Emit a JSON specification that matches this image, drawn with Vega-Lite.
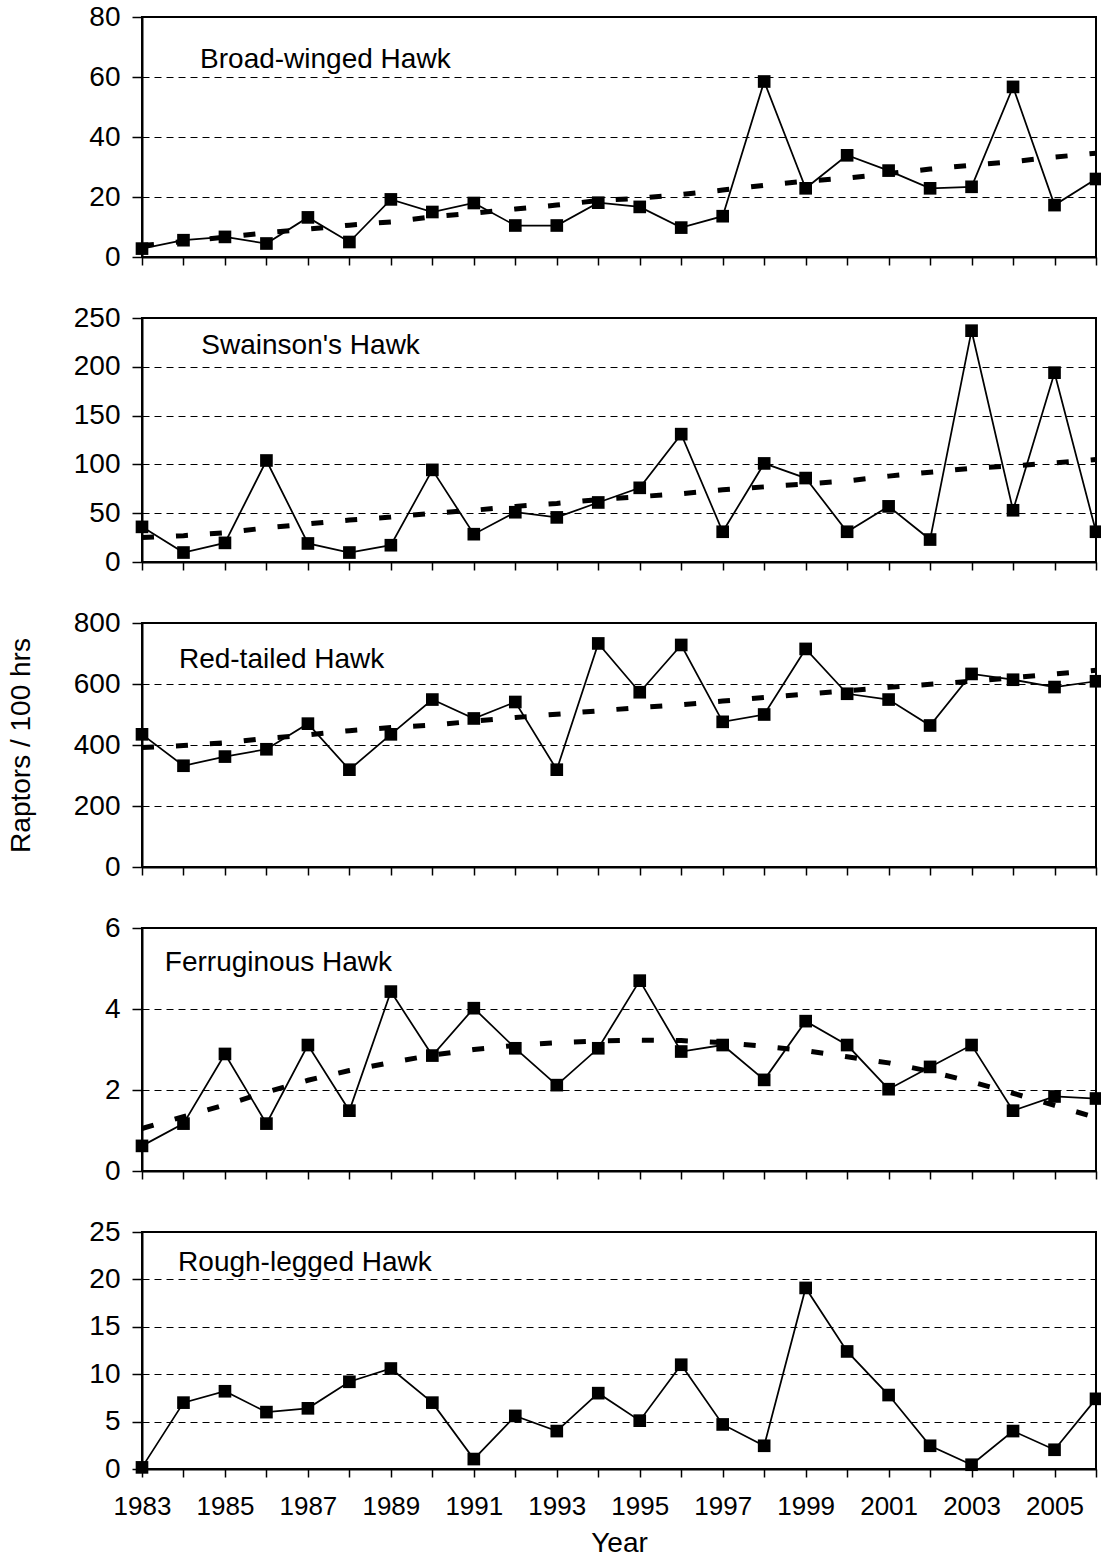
{
  "$schema": "https://vega.github.io/schema/vega-lite/v6.json",
  "background": "white",
  "padding": {"left": 6, "top": 2, "right": 2, "bottom": 2},
  "spacing": 61,
  "bounds": "flush",
  "config": {
    "font": "Liberation Sans",
    "view": {"stroke": "black", "strokeWidth": 2},
    "axis": {
      "domainColor": "black", "domainWidth": 2, "tickColor": "black", "tickWidth": 1.5,
      "labelColor": "black", "titleColor": "black", "labelFont": "Liberation Sans", "titleFont": "Liberation Sans",
      "labelFontSize": 28, "titleFontSize": 28, "titleFontWeight": "normal", "labelFlush": false, "labelOverlap": false
    },
    "axisY": {"tickSize": 10, "labelPadding": 12, "grid": true, "gridColor": "black", "gridDash": [7, 5], "gridWidth": 1, "titlePadding": 38},
    "axisX": {"tickSize": 8, "grid": false, "labelFontSize": 26, "labelPadding": 16, "titlePadding": 10}
  },
  "datasets": {
    "obs": [
      {"species": "Broad-winged Hawk", "year": 1983, "value": 2.8}, {"species": "Broad-winged Hawk", "year": 1984, "value": 5.6},
      {"species": "Broad-winged Hawk", "year": 1985, "value": 6.7}, {"species": "Broad-winged Hawk", "year": 1986, "value": 4.5},
      {"species": "Broad-winged Hawk", "year": 1987, "value": 13.2}, {"species": "Broad-winged Hawk", "year": 1988, "value": 5.0},
      {"species": "Broad-winged Hawk", "year": 1989, "value": 19.2}, {"species": "Broad-winged Hawk", "year": 1990, "value": 15.0},
      {"species": "Broad-winged Hawk", "year": 1991, "value": 18.0}, {"species": "Broad-winged Hawk", "year": 1992, "value": 10.5},
      {"species": "Broad-winged Hawk", "year": 1993, "value": 10.5}, {"species": "Broad-winged Hawk", "year": 1994, "value": 18.1},
      {"species": "Broad-winged Hawk", "year": 1995, "value": 16.7}, {"species": "Broad-winged Hawk", "year": 1996, "value": 9.8},
      {"species": "Broad-winged Hawk", "year": 1997, "value": 13.6}, {"species": "Broad-winged Hawk", "year": 1998, "value": 58.5},
      {"species": "Broad-winged Hawk", "year": 1999, "value": 22.9}, {"species": "Broad-winged Hawk", "year": 2000, "value": 33.9},
      {"species": "Broad-winged Hawk", "year": 2001, "value": 28.8}, {"species": "Broad-winged Hawk", "year": 2002, "value": 22.9},
      {"species": "Broad-winged Hawk", "year": 2003, "value": 23.4}, {"species": "Broad-winged Hawk", "year": 2004, "value": 56.7},
      {"species": "Broad-winged Hawk", "year": 2005, "value": 17.3}, {"species": "Broad-winged Hawk", "year": 2006, "value": 26.0},

      {"species": "Swainson's Hawk", "year": 1983, "value": 36}, {"species": "Swainson's Hawk", "year": 1984, "value": 9.7},
      {"species": "Swainson's Hawk", "year": 1985, "value": 19.6}, {"species": "Swainson's Hawk", "year": 1986, "value": 104},
      {"species": "Swainson's Hawk", "year": 1987, "value": 19}, {"species": "Swainson's Hawk", "year": 1988, "value": 9.7},
      {"species": "Swainson's Hawk", "year": 1989, "value": 17.2}, {"species": "Swainson's Hawk", "year": 1990, "value": 94.4},
      {"species": "Swainson's Hawk", "year": 1991, "value": 28.5}, {"species": "Swainson's Hawk", "year": 1992, "value": 51},
      {"species": "Swainson's Hawk", "year": 1993, "value": 45.7}, {"species": "Swainson's Hawk", "year": 1994, "value": 61},
      {"species": "Swainson's Hawk", "year": 1995, "value": 76}, {"species": "Swainson's Hawk", "year": 1996, "value": 131},
      {"species": "Swainson's Hawk", "year": 1997, "value": 31}, {"species": "Swainson's Hawk", "year": 1998, "value": 101},
      {"species": "Swainson's Hawk", "year": 1999, "value": 86}, {"species": "Swainson's Hawk", "year": 2000, "value": 31},
      {"species": "Swainson's Hawk", "year": 2001, "value": 57}, {"species": "Swainson's Hawk", "year": 2002, "value": 23},
      {"species": "Swainson's Hawk", "year": 2003, "value": 237}, {"species": "Swainson's Hawk", "year": 2004, "value": 53},
      {"species": "Swainson's Hawk", "year": 2005, "value": 194}, {"species": "Swainson's Hawk", "year": 2006, "value": 31},

      {"species": "Red-tailed Hawk", "year": 1983, "value": 435}, {"species": "Red-tailed Hawk", "year": 1984, "value": 332},
      {"species": "Red-tailed Hawk", "year": 1985, "value": 362}, {"species": "Red-tailed Hawk", "year": 1986, "value": 386},
      {"species": "Red-tailed Hawk", "year": 1987, "value": 470}, {"species": "Red-tailed Hawk", "year": 1988, "value": 319},
      {"species": "Red-tailed Hawk", "year": 1989, "value": 435}, {"species": "Red-tailed Hawk", "year": 1990, "value": 549},
      {"species": "Red-tailed Hawk", "year": 1991, "value": 487}, {"species": "Red-tailed Hawk", "year": 1992, "value": 541},
      {"species": "Red-tailed Hawk", "year": 1993, "value": 319}, {"species": "Red-tailed Hawk", "year": 1994, "value": 733},
      {"species": "Red-tailed Hawk", "year": 1995, "value": 573}, {"species": "Red-tailed Hawk", "year": 1996, "value": 728},
      {"species": "Red-tailed Hawk", "year": 1997, "value": 476}, {"species": "Red-tailed Hawk", "year": 1998, "value": 500},
      {"species": "Red-tailed Hawk", "year": 1999, "value": 715}, {"species": "Red-tailed Hawk", "year": 2000, "value": 568},
      {"species": "Red-tailed Hawk", "year": 2001, "value": 549}, {"species": "Red-tailed Hawk", "year": 2002, "value": 464},
      {"species": "Red-tailed Hawk", "year": 2003, "value": 633}, {"species": "Red-tailed Hawk", "year": 2004, "value": 614},
      {"species": "Red-tailed Hawk", "year": 2005, "value": 590}, {"species": "Red-tailed Hawk", "year": 2006, "value": 609},

      {"species": "Ferruginous Hawk", "year": 1983, "value": 0.62}, {"species": "Ferruginous Hawk", "year": 1984, "value": 1.17},
      {"species": "Ferruginous Hawk", "year": 1985, "value": 2.89}, {"species": "Ferruginous Hawk", "year": 1986, "value": 1.17},
      {"species": "Ferruginous Hawk", "year": 1987, "value": 3.11}, {"species": "Ferruginous Hawk", "year": 1988, "value": 1.49},
      {"species": "Ferruginous Hawk", "year": 1989, "value": 4.43}, {"species": "Ferruginous Hawk", "year": 1990, "value": 2.85},
      {"species": "Ferruginous Hawk", "year": 1991, "value": 4.02}, {"species": "Ferruginous Hawk", "year": 1992, "value": 3.03},
      {"species": "Ferruginous Hawk", "year": 1993, "value": 2.12}, {"species": "Ferruginous Hawk", "year": 1994, "value": 3.03},
      {"species": "Ferruginous Hawk", "year": 1995, "value": 4.70}, {"species": "Ferruginous Hawk", "year": 1996, "value": 2.95},
      {"species": "Ferruginous Hawk", "year": 1997, "value": 3.11}, {"species": "Ferruginous Hawk", "year": 1998, "value": 2.25},
      {"species": "Ferruginous Hawk", "year": 1999, "value": 3.70}, {"species": "Ferruginous Hawk", "year": 2000, "value": 3.11},
      {"species": "Ferruginous Hawk", "year": 2001, "value": 2.02}, {"species": "Ferruginous Hawk", "year": 2002, "value": 2.57},
      {"species": "Ferruginous Hawk", "year": 2003, "value": 3.11}, {"species": "Ferruginous Hawk", "year": 2004, "value": 1.49},
      {"species": "Ferruginous Hawk", "year": 2005, "value": 1.84}, {"species": "Ferruginous Hawk", "year": 2006, "value": 1.79},

      {"species": "Rough-legged Hawk", "year": 1983, "value": 0.17}, {"species": "Rough-legged Hawk", "year": 1984, "value": 7.0},
      {"species": "Rough-legged Hawk", "year": 1985, "value": 8.2}, {"species": "Rough-legged Hawk", "year": 1986, "value": 6.0},
      {"species": "Rough-legged Hawk", "year": 1987, "value": 6.4}, {"species": "Rough-legged Hawk", "year": 1988, "value": 9.2},
      {"species": "Rough-legged Hawk", "year": 1989, "value": 10.6}, {"species": "Rough-legged Hawk", "year": 1990, "value": 7.0},
      {"species": "Rough-legged Hawk", "year": 1991, "value": 1.05}, {"species": "Rough-legged Hawk", "year": 1992, "value": 5.6},
      {"species": "Rough-legged Hawk", "year": 1993, "value": 4.0}, {"species": "Rough-legged Hawk", "year": 1994, "value": 8.0},
      {"species": "Rough-legged Hawk", "year": 1995, "value": 5.1}, {"species": "Rough-legged Hawk", "year": 1996, "value": 11.0},
      {"species": "Rough-legged Hawk", "year": 1997, "value": 4.7}, {"species": "Rough-legged Hawk", "year": 1998, "value": 2.45},
      {"species": "Rough-legged Hawk", "year": 1999, "value": 19.1}, {"species": "Rough-legged Hawk", "year": 2000, "value": 12.4},
      {"species": "Rough-legged Hawk", "year": 2001, "value": 7.8}, {"species": "Rough-legged Hawk", "year": 2002, "value": 2.45},
      {"species": "Rough-legged Hawk", "year": 2003, "value": 0.45}, {"species": "Rough-legged Hawk", "year": 2004, "value": 4.0},
      {"species": "Rough-legged Hawk", "year": 2005, "value": 2.03}, {"species": "Rough-legged Hawk", "year": 2006, "value": 7.4}
    ],
    "trend": [
      {"species": "Broad-winged Hawk", "year": 1983, "value": 3.8}, {"species": "Broad-winged Hawk", "year": 1984, "value": 5.2},
      {"species": "Broad-winged Hawk", "year": 1985, "value": 6.6}, {"species": "Broad-winged Hawk", "year": 1986, "value": 8.1},
      {"species": "Broad-winged Hawk", "year": 1987, "value": 9.3}, {"species": "Broad-winged Hawk", "year": 1988, "value": 10.6},
      {"species": "Broad-winged Hawk", "year": 1989, "value": 11.7}, {"species": "Broad-winged Hawk", "year": 1990, "value": 13.4},
      {"species": "Broad-winged Hawk", "year": 1991, "value": 14.6}, {"species": "Broad-winged Hawk", "year": 1992, "value": 16.0},
      {"species": "Broad-winged Hawk", "year": 1993, "value": 17.3}, {"species": "Broad-winged Hawk", "year": 1994, "value": 18.8},
      {"species": "Broad-winged Hawk", "year": 1995, "value": 19.6}, {"species": "Broad-winged Hawk", "year": 1996, "value": 20.8},
      {"species": "Broad-winged Hawk", "year": 1997, "value": 22.3}, {"species": "Broad-winged Hawk", "year": 1998, "value": 23.9},
      {"species": "Broad-winged Hawk", "year": 1999, "value": 25.3}, {"species": "Broad-winged Hawk", "year": 2000, "value": 26.3},
      {"species": "Broad-winged Hawk", "year": 2001, "value": 27.8}, {"species": "Broad-winged Hawk", "year": 2002, "value": 29.3},
      {"species": "Broad-winged Hawk", "year": 2003, "value": 30.6}, {"species": "Broad-winged Hawk", "year": 2004, "value": 31.8},
      {"species": "Broad-winged Hawk", "year": 2005, "value": 33.3}, {"species": "Broad-winged Hawk", "year": 2006, "value": 34.6},

      {"species": "Swainson's Hawk", "year": 1983, "value": 25}, {"species": "Swainson's Hawk", "year": 1984, "value": 27},
      {"species": "Swainson's Hawk", "year": 1985, "value": 30}, {"species": "Swainson's Hawk", "year": 1986, "value": 35},
      {"species": "Swainson's Hawk", "year": 1987, "value": 39}, {"species": "Swainson's Hawk", "year": 1988, "value": 43},
      {"species": "Swainson's Hawk", "year": 1989, "value": 46}, {"species": "Swainson's Hawk", "year": 1990, "value": 50},
      {"species": "Swainson's Hawk", "year": 1991, "value": 53}, {"species": "Swainson's Hawk", "year": 1992, "value": 57},
      {"species": "Swainson's Hawk", "year": 1993, "value": 60}, {"species": "Swainson's Hawk", "year": 1994, "value": 64},
      {"species": "Swainson's Hawk", "year": 1995, "value": 67}, {"species": "Swainson's Hawk", "year": 1996, "value": 70},
      {"species": "Swainson's Hawk", "year": 1997, "value": 74}, {"species": "Swainson's Hawk", "year": 1998, "value": 77},
      {"species": "Swainson's Hawk", "year": 1999, "value": 80}, {"species": "Swainson's Hawk", "year": 2000, "value": 83},
      {"species": "Swainson's Hawk", "year": 2001, "value": 88}, {"species": "Swainson's Hawk", "year": 2002, "value": 92},
      {"species": "Swainson's Hawk", "year": 2003, "value": 96}, {"species": "Swainson's Hawk", "year": 2004, "value": 98.5},
      {"species": "Swainson's Hawk", "year": 2005, "value": 101.5}, {"species": "Swainson's Hawk", "year": 2006, "value": 105},

      {"species": "Red-tailed Hawk", "year": 1983, "value": 392}, {"species": "Red-tailed Hawk", "year": 1984, "value": 398},
      {"species": "Red-tailed Hawk", "year": 1985, "value": 407}, {"species": "Red-tailed Hawk", "year": 1986, "value": 422},
      {"species": "Red-tailed Hawk", "year": 1987, "value": 433}, {"species": "Red-tailed Hawk", "year": 1988, "value": 447},
      {"species": "Red-tailed Hawk", "year": 1989, "value": 457}, {"species": "Red-tailed Hawk", "year": 1990, "value": 465},
      {"species": "Red-tailed Hawk", "year": 1991, "value": 478}, {"species": "Red-tailed Hawk", "year": 1992, "value": 490},
      {"species": "Red-tailed Hawk", "year": 1993, "value": 501}, {"species": "Red-tailed Hawk", "year": 1994, "value": 512},
      {"species": "Red-tailed Hawk", "year": 1995, "value": 523}, {"species": "Red-tailed Hawk", "year": 1996, "value": 532},
      {"species": "Red-tailed Hawk", "year": 1997, "value": 544}, {"species": "Red-tailed Hawk", "year": 1998, "value": 556},
      {"species": "Red-tailed Hawk", "year": 1999, "value": 567}, {"species": "Red-tailed Hawk", "year": 2000, "value": 578},
      {"species": "Red-tailed Hawk", "year": 2001, "value": 589}, {"species": "Red-tailed Hawk", "year": 2002, "value": 599},
      {"species": "Red-tailed Hawk", "year": 2003, "value": 609}, {"species": "Red-tailed Hawk", "year": 2004, "value": 621},
      {"species": "Red-tailed Hawk", "year": 2005, "value": 633}, {"species": "Red-tailed Hawk", "year": 2006, "value": 645},

      {"species": "Ferruginous Hawk", "year": 1983, "value": 1.05}, {"species": "Ferruginous Hawk", "year": 1984, "value": 1.34},
      {"species": "Ferruginous Hawk", "year": 1985, "value": 1.63}, {"species": "Ferruginous Hawk", "year": 1986, "value": 1.95},
      {"species": "Ferruginous Hawk", "year": 1987, "value": 2.24}, {"species": "Ferruginous Hawk", "year": 1988, "value": 2.48},
      {"species": "Ferruginous Hawk", "year": 1989, "value": 2.68}, {"species": "Ferruginous Hawk", "year": 1990, "value": 2.86},
      {"species": "Ferruginous Hawk", "year": 1991, "value": 3.0}, {"species": "Ferruginous Hawk", "year": 1992, "value": 3.1},
      {"species": "Ferruginous Hawk", "year": 1993, "value": 3.17}, {"species": "Ferruginous Hawk", "year": 1994, "value": 3.21},
      {"species": "Ferruginous Hawk", "year": 1995, "value": 3.23}, {"species": "Ferruginous Hawk", "year": 1996, "value": 3.22},
      {"species": "Ferruginous Hawk", "year": 1997, "value": 3.17}, {"species": "Ferruginous Hawk", "year": 1998, "value": 3.08},
      {"species": "Ferruginous Hawk", "year": 1999, "value": 2.97}, {"species": "Ferruginous Hawk", "year": 2000, "value": 2.82},
      {"species": "Ferruginous Hawk", "year": 2001, "value": 2.67}, {"species": "Ferruginous Hawk", "year": 2002, "value": 2.46},
      {"species": "Ferruginous Hawk", "year": 2003, "value": 2.2}, {"species": "Ferruginous Hawk", "year": 2004, "value": 1.92},
      {"species": "Ferruginous Hawk", "year": 2005, "value": 1.62}, {"species": "Ferruginous Hawk", "year": 2006, "value": 1.32}
    ]
  },
  "vconcat": [
    {
      "width": 954, "height": 240,
      "layer": [
        {"data": {"name": "trend"}, "transform": [{"filter": "datum.species === 'Broad-winged Hawk'"}], "mark": {"type": "line", "color": "black", "strokeWidth": 5, "strokeDash": [12, 22], "strokeCap": "butt"},
         "encoding": {
           "x": {"field": "year", "type": "quantitative", "scale": {"domain": [1983, 2006], "nice": false, "zero": false},
                 "axis": {"values": [1983,1984,1985,1986,1987,1988,1989,1990,1991,1992,1993,1994,1995,1996,1997,1998,1999,2000,2001,2002,2003,2004,2005,2006], "labels": false, "title": null}},
           "y": {"field": "value", "type": "quantitative", "scale": {"domain": [0, 80], "nice": false, "zero": true}, "axis": {"values": [0, 20, 40, 60, 80], "title": null}}}},
        {"data": {"name": "obs"}, "transform": [{"filter": "datum.species === 'Broad-winged Hawk'"}], "mark": {"type": "line", "color": "black", "strokeWidth": 1.75},
         "encoding": {"x": {"field": "year", "type": "quantitative"}, "y": {"field": "value", "type": "quantitative"}}},
        {"data": {"name": "obs"}, "transform": [{"filter": "datum.species === 'Broad-winged Hawk'"}], "mark": {"type": "point", "shape": "square", "filled": true, "size": 160, "color": "black", "opacity": 1},
         "encoding": {"x": {"field": "year", "type": "quantitative"}, "y": {"field": "value", "type": "quantitative"}}},
        {"data": {"name": "obs"}, "transform": [{"filter": "datum.species === 'Broad-winged Hawk' && datum.year === 1983"}],
         "mark": {"type": "text", "align": "left", "baseline": "alphabetic", "fontSize": 28, "color": "black", "text": "Broad-winged Hawk"},
         "encoding": {"x": {"datum": 1984.4, "type": "quantitative"}, "y": {"datum": 63, "type": "quantitative"}}}
      ]
    },
    {
      "width": 954, "height": 244,
      "layer": [
        {"data": {"name": "trend"}, "transform": [{"filter": "datum.species === \"Swainson's Hawk\""}], "mark": {"type": "line", "color": "black", "strokeWidth": 5, "strokeDash": [12, 22], "strokeCap": "butt"},
         "encoding": {
           "x": {"field": "year", "type": "quantitative", "scale": {"domain": [1983, 2006], "nice": false, "zero": false},
                 "axis": {"values": [1983,1984,1985,1986,1987,1988,1989,1990,1991,1992,1993,1994,1995,1996,1997,1998,1999,2000,2001,2002,2003,2004,2005,2006], "labels": false, "title": null}},
           "y": {"field": "value", "type": "quantitative", "scale": {"domain": [0, 250], "nice": false, "zero": true}, "axis": {"values": [0, 50, 100, 150, 200, 250], "title": null}}}},
        {"data": {"name": "obs"}, "transform": [{"filter": "datum.species === \"Swainson's Hawk\""}], "mark": {"type": "line", "color": "black", "strokeWidth": 1.75},
         "encoding": {"x": {"field": "year", "type": "quantitative"}, "y": {"field": "value", "type": "quantitative"}}},
        {"data": {"name": "obs"}, "transform": [{"filter": "datum.species === \"Swainson's Hawk\""}], "mark": {"type": "point", "shape": "square", "filled": true, "size": 160, "color": "black", "opacity": 1},
         "encoding": {"x": {"field": "year", "type": "quantitative"}, "y": {"field": "value", "type": "quantitative"}}},
        {"data": {"name": "obs"}, "transform": [{"filter": "datum.species === \"Swainson's Hawk\" && datum.year === 1983"}],
         "mark": {"type": "text", "align": "left", "baseline": "alphabetic", "fontSize": 28, "color": "black", "text": "Swainson's Hawk"},
         "encoding": {"x": {"datum": 1984.43, "type": "quantitative"}, "y": {"datum": 212.7, "type": "quantitative"}}}
      ]
    },
    {
      "width": 954, "height": 244,
      "layer": [
        {"data": {"name": "trend"}, "transform": [{"filter": "datum.species === 'Red-tailed Hawk'"}], "mark": {"type": "line", "color": "black", "strokeWidth": 5, "strokeDash": [12, 22], "strokeCap": "butt"},
         "encoding": {
           "x": {"field": "year", "type": "quantitative", "scale": {"domain": [1983, 2006], "nice": false, "zero": false},
                 "axis": {"values": [1983,1984,1985,1986,1987,1988,1989,1990,1991,1992,1993,1994,1995,1996,1997,1998,1999,2000,2001,2002,2003,2004,2005,2006], "labels": false, "title": null}},
           "y": {"field": "value", "type": "quantitative", "scale": {"domain": [0, 800], "nice": false, "zero": true}, "axis": {"values": [0, 200, 400, 600, 800], "title": "Raptors / 100 hrs"}}}},
        {"data": {"name": "obs"}, "transform": [{"filter": "datum.species === 'Red-tailed Hawk'"}], "mark": {"type": "line", "color": "black", "strokeWidth": 1.75},
         "encoding": {"x": {"field": "year", "type": "quantitative"}, "y": {"field": "value", "type": "quantitative"}}},
        {"data": {"name": "obs"}, "transform": [{"filter": "datum.species === 'Red-tailed Hawk'"}], "mark": {"type": "point", "shape": "square", "filled": true, "size": 160, "color": "black", "opacity": 1},
         "encoding": {"x": {"field": "year", "type": "quantitative"}, "y": {"field": "value", "type": "quantitative"}}},
        {"data": {"name": "obs"}, "transform": [{"filter": "datum.species === 'Red-tailed Hawk' && datum.year === 1983"}],
         "mark": {"type": "text", "align": "left", "baseline": "alphabetic", "fontSize": 28, "color": "black", "text": "Red-tailed Hawk"},
         "encoding": {"x": {"datum": 1983.89, "type": "quantitative"}, "y": {"datum": 654, "type": "quantitative"}}}
      ]
    },
    {
      "width": 954, "height": 243,
      "layer": [
        {"data": {"name": "trend"}, "transform": [{"filter": "datum.species === 'Ferruginous Hawk'"}], "mark": {"type": "line", "color": "black", "strokeWidth": 5, "strokeDash": [12, 22], "strokeCap": "butt"},
         "encoding": {
           "x": {"field": "year", "type": "quantitative", "scale": {"domain": [1983, 2006], "nice": false, "zero": false},
                 "axis": {"values": [1983,1984,1985,1986,1987,1988,1989,1990,1991,1992,1993,1994,1995,1996,1997,1998,1999,2000,2001,2002,2003,2004,2005,2006], "labels": false, "title": null}},
           "y": {"field": "value", "type": "quantitative", "scale": {"domain": [0, 6], "nice": false, "zero": true}, "axis": {"values": [0, 2, 4, 6], "title": null}}}},
        {"data": {"name": "obs"}, "transform": [{"filter": "datum.species === 'Ferruginous Hawk'"}], "mark": {"type": "line", "color": "black", "strokeWidth": 1.75},
         "encoding": {"x": {"field": "year", "type": "quantitative"}, "y": {"field": "value", "type": "quantitative"}}},
        {"data": {"name": "obs"}, "transform": [{"filter": "datum.species === 'Ferruginous Hawk'"}], "mark": {"type": "point", "shape": "square", "filled": true, "size": 160, "color": "black", "opacity": 1},
         "encoding": {"x": {"field": "year", "type": "quantitative"}, "y": {"field": "value", "type": "quantitative"}}},
        {"data": {"name": "obs"}, "transform": [{"filter": "datum.species === 'Ferruginous Hawk' && datum.year === 1983"}],
         "mark": {"type": "text", "align": "left", "baseline": "alphabetic", "fontSize": 28, "color": "black", "text": "Ferruginous Hawk"},
         "encoding": {"x": {"datum": 1983.55, "type": "quantitative"}, "y": {"datum": 4.95, "type": "quantitative"}}}
      ]
    },
    {
      "width": 954, "height": 237,
      "layer": [
        {"data": {"name": "obs"}, "transform": [{"filter": "datum.species === 'Rough-legged Hawk'"}], "mark": {"type": "line", "color": "black", "strokeWidth": 1.75},
         "encoding": {
           "x": {"field": "year", "type": "quantitative", "scale": {"domain": [1983, 2006], "nice": false, "zero": false},
                 "axis": {"values": [1983,1984,1985,1986,1987,1988,1989,1990,1991,1992,1993,1994,1995,1996,1997,1998,1999,2000,2001,2002,2003,2004,2005,2006], "format": "d", "labelExpr": "datum.value % 2 === 1 ? datum.label : ''", "title": "Year"}},
           "y": {"field": "value", "type": "quantitative", "scale": {"domain": [0, 25], "nice": false, "zero": true}, "axis": {"values": [0, 5, 10, 15, 20, 25], "title": null}}}},
        {"data": {"name": "obs"}, "transform": [{"filter": "datum.species === 'Rough-legged Hawk'"}], "mark": {"type": "point", "shape": "square", "filled": true, "size": 160, "color": "black", "opacity": 1},
         "encoding": {"x": {"field": "year", "type": "quantitative"}, "y": {"field": "value", "type": "quantitative"}}},
        {"data": {"name": "obs"}, "transform": [{"filter": "datum.species === 'Rough-legged Hawk' && datum.year === 1983"}],
         "mark": {"type": "text", "align": "left", "baseline": "alphabetic", "fontSize": 28, "color": "black", "text": "Rough-legged Hawk"},
         "encoding": {"x": {"datum": 1983.87, "type": "quantitative"}, "y": {"datum": 20.9, "type": "quantitative"}}}
      ]
    }
  ]
}
